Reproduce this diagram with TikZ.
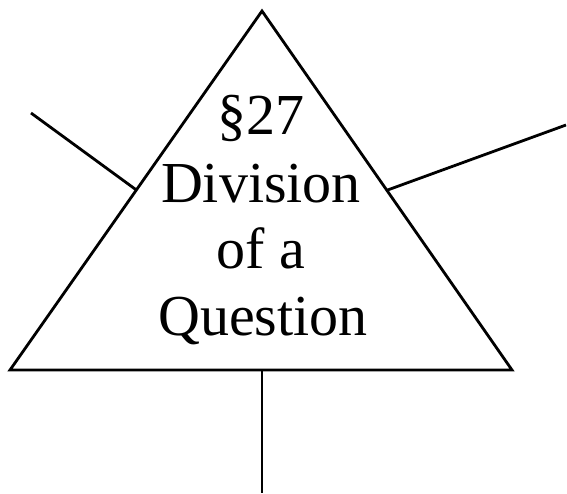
\documentclass[tikz,border=0pt]{standalone}
\usepackage{fontspec}
\setmainfont{Liberation Serif}
\begin{document}
\begin{tikzpicture}[x=1pt,y=-1pt,
  edge/.style={line width=2.8pt,line cap=butt},
  label/.style={font=\fontsize{58}{67}\selectfont,anchor=base,inner sep=0pt}]
\useasboundingbox (0,0) rectangle (567,493);
\coordinate (apex) at (262,11);
\coordinate (bl) at (10,370);
\coordinate (br) at (512,370);
\coordinate (lin) at (136.4,190);
\coordinate (rin) at (387.6,190);
\coordinate (bin) at (262,370);
\coordinate (lout) at (31,113);
\coordinate (rout) at (566,125);
\coordinate (bout) at (262,493);
\draw[edge,line join=miter] (apex) -- (bl) -- (br) -- cycle;
\draw[edge] (lin) -- (lout);
\draw[edge] (rin) -- (rout);
\draw[edge] (bin) -- (bout);
\node[label] (t1) at (261,134) {§27};
\node[label] (t2) at (261,202) {Division};
\node[label] (t3) at (261,268) {of a};
\node[label] (t4) at (263,335) {Question};
\end{tikzpicture}
\end{document}
